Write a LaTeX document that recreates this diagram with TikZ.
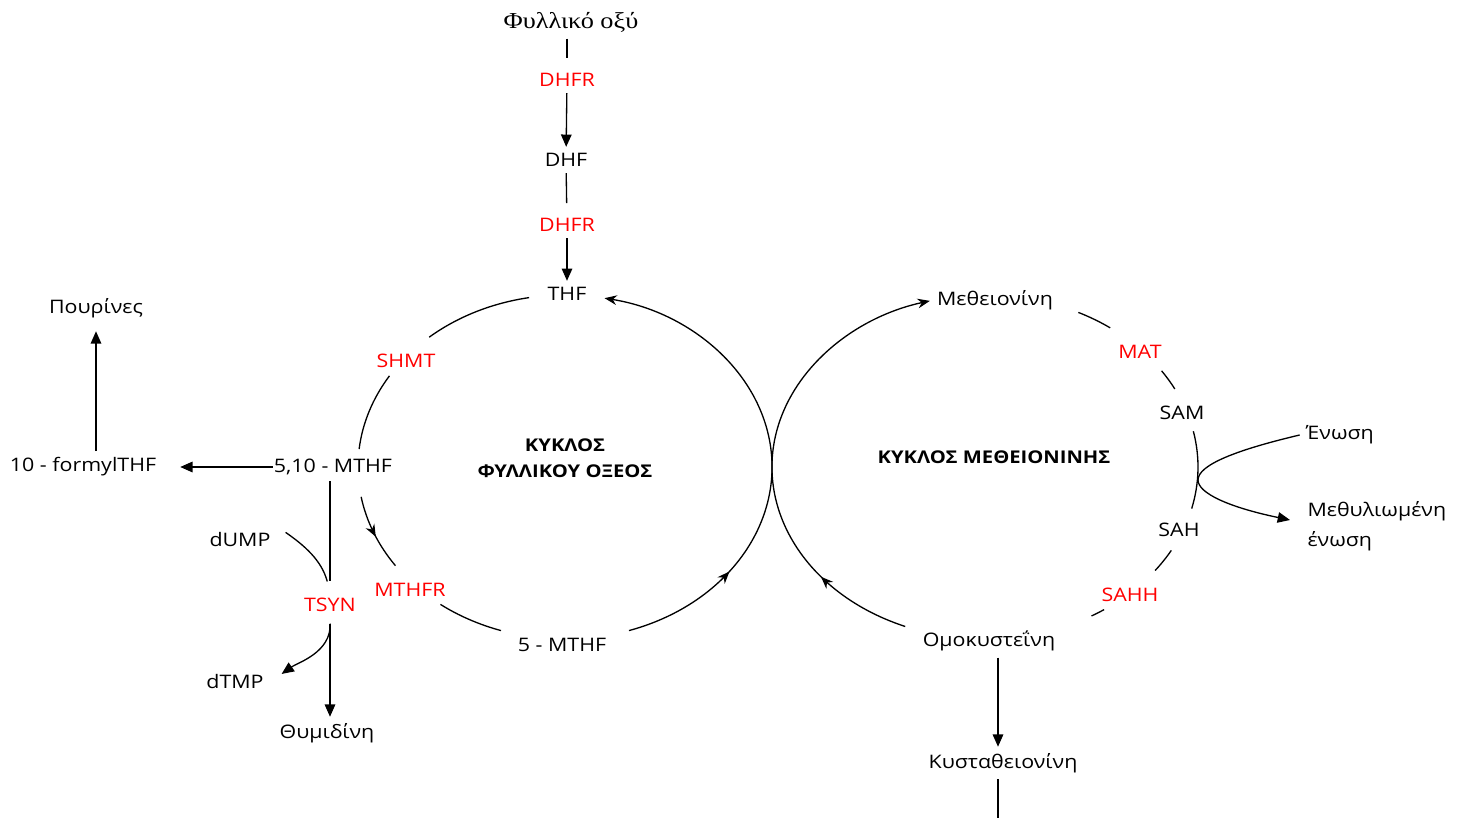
\documentclass[tikz,border=0pt]{standalone}
\usepackage{fontspec}
\setmainfont[FakeStretch=1.15]{Open Sans}
\newfontfamily\titlefont[FakeStretch=1.15]{Liberation Serif}
\usetikzlibrary{arrows.meta,decorations.markings}

\tikzset{
  enz/.style={text=red},
  arr/.style={-{Triangle[length=7pt,width=6pt]}},
  midarrow/.style={postaction={decorate},
    decoration={markings,mark=at position #1 with {\arrow{Stealth[length=7pt,width=5.5pt]}}}},
  cyctitle/.style={font=\bfseries, align=center},
}

\begin{document}
\begin{tikzpicture}[x=0.02cm,y=0.02cm,line width=0.75pt,
    font=\fontsize{10.6}{12}\selectfont]
    \useasboundingbox (0,0) rectangle (1464,-818);
    % centres of the two cycles
    \coordinate (fcyc) at (565,-467);
    \coordinate (mcyc) at (985,-467);

    % folate chain from the top
    \node[font=\titlefont\fontsize{13}{15}\selectfont] (folic) at (571,-22) {Φυλλικό οξύ};
    \node[enz] (dhfrA) at (567,-80) {DHFR};
    \node (dhf) at (566,-160) {DHF};
    \node[enz] (dhfrB) at (567,-225) {DHFR};
    \node (thf) at (567,-294) {THF};

    % folate cycle
    \node[enz] (shmt) at (406,-361) {SHMT};
    \node (mthfA) at (333,-467) {5,10 - MTHF};
    \node[enz] (mthfr) at (410,-590) {MTHFR};
    \node (mthfB) at (562,-645) {5 - MTHF};
    \node[cyctitle] (foltitle) at (565,-458) {ΚΥΚΛΟΣ\\[3pt]ΦΥΛΛΙΚΟΥ ΟΞΕΟΣ};

    % side branches
    \node (formyl) at (83,-467) {10 - formylTHF};
    \node (purines) at (96,-308) {Πουρίνες};
    \node[enz] (tsyn) at (330,-605) {TSYN};
    \node (dump) at (240,-540) {dUMP};
    \node (dtmp) at (235,-682) {dTMP};
    \node (thym) at (327,-733) {Θυμιδίνη};

    % methionine cycle
    \node (meth) at (995,-300) {Μεθειονίνη};
    \node[enz] (mat) at (1140,-352) {MAT};
    \node (sam) at (1182,-413) {SAM};
    \node (sah) at (1179,-530) {SAH};
    \node[enz] (sahh) at (1130,-595) {SAHH};
    \node (homocys) at (989,-641) {Ομοκυστεΐνη};
    \node (cysta) at (1003,-763) {Κυσταθειονίνη};
    \node[cyctitle] (mettitle) at (994,-457) {ΚΥΚΛΟΣ ΜΕΘΕΙΟΝΙΝΗΣ};
    \node (enosi) at (1340,-435) {Ένωση};
    \node[anchor=west, align=left] (methyl) at (1301,-526) {Μεθυλιωμένη\\[5pt]ένωση};
    \coordinate (branch) at (1198,-480);
    \coordinate (methyltip) at (1290,-520);
    \coordinate (cystaout) at (998,-818);

    % chain connectors
    \draw[shorten >=5pt] (folic.south -| dhfrA.north) -- (dhfrA.north);
    \draw[arr] (dhfrA) -- (dhf);
    \draw[shorten >=5pt] (dhf) -- (dhfrB);
    \draw[arr] (dhfrB) -- (thf);

    % folate cycle arcs
    \draw (fcyc) ++(100:207 and 172) arc[start angle=100, end angle=131, x radius=207, y radius=172];
    \draw (fcyc) ++(148:207 and 172) arc[start angle=148, end angle=174, x radius=207, y radius=172];
    \draw[midarrow=0.55] (fcyc) ++(190:207 and 172) arc[start angle=190, end angle=215, x radius=207, y radius=172];
    \draw (fcyc) ++(233:207 and 172) arc[start angle=233, end angle=252, x radius=207, y radius=172];
    \draw[midarrow=0.24, -{Stealth[length=7pt,width=5.5pt]}] (fcyc) ++(-72:207 and 172)
        arc[start angle=-72, end angle=79, x radius=207, y radius=172];

    % side branches of the folate cycle
    \draw[arr, shorten <=-3pt, shorten >=10pt] (mthfA.west) -- (formyl.east);
    \draw[arr, shorten >=4pt] (formyl.north -| purines) -- (purines.south);
    \draw[shorten >=6pt] (mthfA.south -| tsyn) -- (tsyn.north);
    \draw[shorten <=6pt, shorten >=6pt] (dump.north east) to[out=-35, in=105] (tsyn.north);
    \draw[arr, shorten <=3pt, shorten >=8pt] (tsyn.south) to[out=-88, in=35] (dtmp.east);
    \draw[arr, shorten <=3pt] (tsyn.south) -- (tsyn.south |- thym.north);

    % methionine cycle arcs
    \draw[midarrow=0.21, -{Stealth[length=7pt,width=5.5pt]}] (mcyc) ++(248:213 and 172)
        arc[start angle=248, end angle=105, x radius=213, y radius=172];
    \draw (mcyc) ++(64:213 and 172) arc[start angle=64, end angle=54, x radius=213, y radius=172];
    \draw (mcyc) ++(34:213 and 172) arc[start angle=34, end angle=27, x radius=213, y radius=172];
    \draw (mcyc) ++(12:213 and 172) arc[start angle=12, end angle=-14, x radius=213, y radius=172];
    \draw (mcyc) ++(-29:213 and 172) arc[start angle=-29, end angle=-37, x radius=213, y radius=172];
    \draw (mcyc) ++(-56:213 and 172) arc[start angle=-56, end angle=-60, x radius=213, y radius=172];

    % methyl transfer and transsulfuration
    \draw[arr] (enosi.west) .. controls (1236,-450) and (1198,-465) .. (branch)
        .. controls (1198,-493) and (1228,-507) .. (methyltip);
    \draw[arr] (homocys.south -| cystaout) -- (cysta.north -| cystaout);
    \draw (cysta.south -| cystaout) -- (cystaout);
\end{tikzpicture}
\end{document}
